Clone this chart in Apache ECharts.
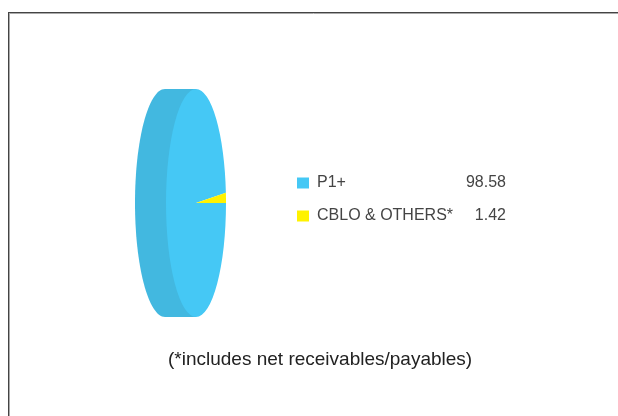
<!DOCTYPE html>
<html>
<head>
<meta charset="utf-8">
<script src="https://cdn.jsdelivr.net/npm/echarts@6/dist/echarts.min.js"></script>
<style>
html,body{margin:0;padding:0;background:#fff;}
#chart{width:618px;height:416px;}
</style>
</head>
<body>
<div id="chart"></div>
<script>
var categories = ['P1+', 'CBLO & OTHERS*'];
var values = [98.58, 1.42];
var colors = ['#45C8F5', '#FFF200'];
var sideColor = '#42B8E0';
var footnote = '(*includes net receivables/payables)';

var chart = echarts.init(document.getElementById('chart'), null, {renderer: 'canvas'});

var CX = 196, CY = 203, RY = 114, RX = 30, DEPTH = 31;
var total = values.reduce(function (a, b) { return a + b; }, 0);

function sliceAngles(idx) {
  var acc = 0;
  for (var i = values.length - 1; i >= 0; i--) {
    var span = values[i] / total * Math.PI * 2;
    if (i === idx) { return [-(acc + span), -acc]; }
    acc += span;
  }
}

var FONT = "'Liberation Sans', Arial, sans-serif";

var series = [];
series.push({
  type: 'custom',
  name: 'side',
  coordinateSystem: 'none',
  silent: true,
  data: [0],
  renderItem: function () {
    return {
      type: 'group',
      children: [
        {type: 'ellipse', shape: {cx: CX - DEPTH, cy: CY, rx: RX, ry: RY}, style: {fill: sideColor}},
        {type: 'rect', shape: {x: CX - DEPTH, y: CY - RY, width: DEPTH, height: RY * 2}, style: {fill: sideColor}}
      ]
    };
  }
});
categories.forEach(function (name, idx) {
  series.push({
    type: 'custom',
    name: name,
    coordinateSystem: 'none',
    silent: true,
    itemStyle: {color: colors[idx]},
    data: [values[idx]],
    renderItem: function (params, api) {
      var a = sliceAngles(idx);
      return {
        type: 'sector',
        x: CX, y: CY,
        scaleX: RX / RY,
        shape: {cx: 0, cy: 0, r: RY, r0: 0, startAngle: a[0], endAngle: a[1], clockwise: true},
        style: {fill: colors[idx]}
      };
    }
  });
});

chart.setOption({
  animation: false,
  legend: {
    data: categories,
    orient: 'vertical',
    left: 292,
    top: 170,
    itemWidth: 12,
    itemHeight: 11,
    itemGap: 17,
    icon: 'rect',
    selectedMode: false,
    formatter: function (name) {
      var i = categories.indexOf(name);
      return '{n|' + name + '}{v|' + values[i].toFixed(2) + '}';
    },
    textStyle: {
      fontFamily: FONT,
      fontSize: 16,
      color: '#444',
      rich: {
        n: {fontFamily: FONT, fontSize: 16, color: '#444', width: 139, padding: [0, 0, 0, 3]},
        v: {fontFamily: FONT, fontSize: 16, color: '#444', width: 50, align: 'right'}
      }
    }
  },
  graphic: [
    {type: 'line', shape: {x1: 8, y1: 12.5, x2: 618, y2: 12.5}, style: {stroke: '#444', lineWidth: 1}},
    {type: 'line', shape: {x1: 9, y1: 13.5, x2: 618, y2: 13.5}, style: {stroke: '#aaa', lineWidth: 1}},
    {type: 'line', shape: {x1: 8.5, y1: 12, x2: 8.5, y2: 416}, style: {stroke: '#444', lineWidth: 1}},
    {type: 'line', shape: {x1: 9.5, y1: 13, x2: 9.5, y2: 416}, style: {stroke: '#aaa', lineWidth: 1}},
    {type: 'text', left: 168, top: 350, style: {text: footnote, fontFamily: 'Liberation Sans', fontSize: 19, fill: '#222'}}
  ],
  series: series
});
</script>
</body>
</html>
